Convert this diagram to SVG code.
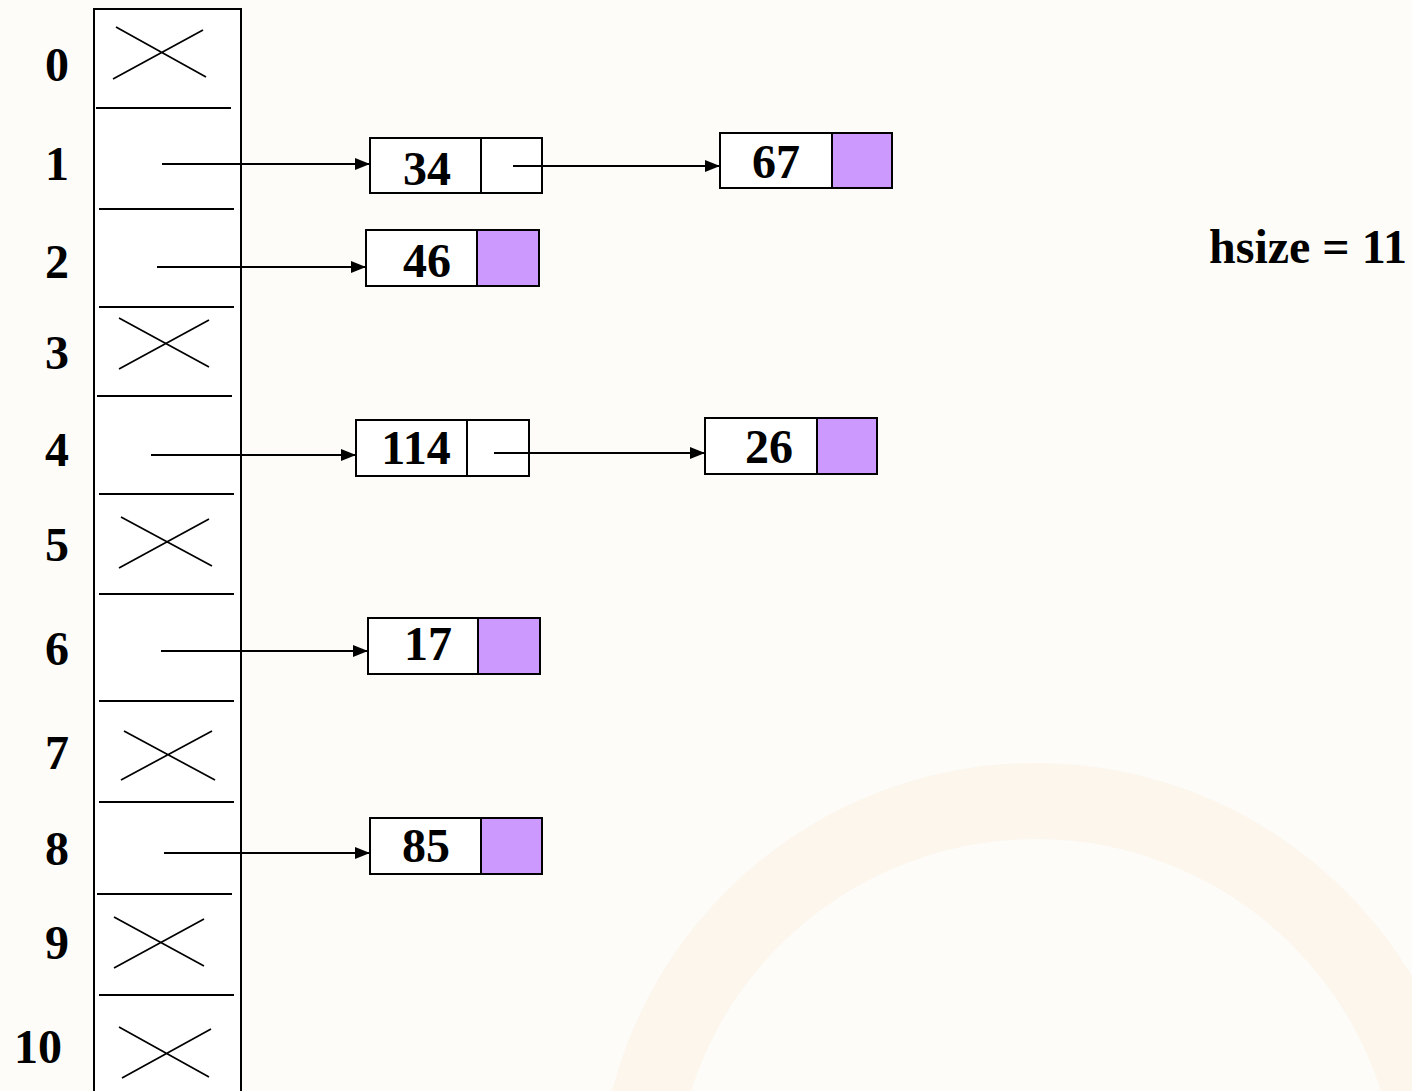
<svg xmlns="http://www.w3.org/2000/svg" width="1412" height="1091" viewBox="0 0 1412 1091">
  <style>
    .lbl { font-family: "Liberation Serif", "Times New Roman", serif; font-weight: bold; font-size: 48px; fill: #000; }
    .mid { text-anchor: middle; }
    .box { fill: #ffffff; stroke: #000; stroke-width: 2; }
    .nul { fill: #cc99ff; stroke: #000; stroke-width: 2; }
    .sep { stroke: #000; stroke-width: 2.2; }
    .x { stroke: #000; stroke-width: 1.7; fill: none; }
    .arr { stroke: #000; stroke-width: 1.8; fill: none; marker-end: url(#head); }
  </style>
  <defs>
    <marker id="head" viewBox="0 0 15 12" refX="15" refY="6" markerWidth="15" markerHeight="12" markerUnits="userSpaceOnUse" orient="auto">
      <path d="M0,0 L15,6 L0,12 Z" fill="#000"/>
    </marker>
  </defs>

  <!-- background with faint decorative ring -->
  <rect x="0" y="0" width="1412" height="1091" fill="#fdfcf9"/>
  <circle cx="1036" cy="1201" r="400" fill="none" stroke="#fcf1e2" stroke-width="76" opacity="0.55"/>

  <!-- hash table column -->
  <g id="table">
    <rect x="94" y="9" width="147" height="1095" fill="#ffffff" stroke="#000" stroke-width="2"/>
    <line class="sep" x1="96" y1="108" x2="231" y2="108"/>
    <line class="sep" x1="99" y1="209" x2="234" y2="209"/>
    <line class="sep" x1="99" y1="307" x2="234" y2="307"/>
    <line class="sep" x1="97" y1="396" x2="232" y2="396"/>
    <line class="sep" x1="99" y1="494" x2="234" y2="494" stroke-width="2.8"/>
    <line class="sep" x1="99" y1="594" x2="234" y2="594"/>
    <line class="sep" x1="99" y1="701" x2="234" y2="701"/>
    <line class="sep" x1="99" y1="802" x2="234" y2="802"/>
    <line class="sep" x1="97" y1="894" x2="232" y2="894"/>
    <line class="sep" x1="99" y1="995" x2="234" y2="995"/>
    <!-- empty slots -->
    <path class="x" d="M116,27 L206,77 M113,79 L203,30"/>
    <path class="x" d="M119,318 L209,367 M119,369 L209,320"/>
    <path class="x" d="M121,517 L212,566 M119,568 L209,519"/>
    <path class="x" d="M124,731 L215,780 M121,780 L212,731"/>
    <path class="x" d="M114,917 L204,966 M114,968 L204,919"/>
    <path class="x" d="M119,1027 L209,1077 M122,1078 L211,1029"/>
  </g>

  <!-- slot indices -->
  <g id="indices" class="lbl">
    <text class="mid" x="57" y="81">0</text>
    <text class="mid" x="57" y="180">1</text>
    <text class="mid" x="57" y="278">2</text>
    <text class="mid" x="57" y="369">3</text>
    <text class="mid" x="57" y="466">4</text>
    <text class="mid" x="57" y="561">5</text>
    <text class="mid" x="57" y="665">6</text>
    <text class="mid" x="57" y="769">7</text>
    <text class="mid" x="57" y="865">8</text>
    <text class="mid" x="57" y="959">9</text>
    <text class="mid" x="38" y="1063">10</text>
  </g>

  <!-- list nodes -->
  <g id="node-34">
    <rect class="box" x="370" y="138" width="172" height="55"/>
    <line x1="481" y1="138" x2="481" y2="193" stroke="#000" stroke-width="2"/>
    <text class="lbl mid" x="427" y="185">34</text>
  </g>
  <g id="node-67">
    <rect class="box" x="720" y="133" width="172" height="55"/>
    <rect class="nul" x="832" y="133" width="60" height="55"/>
    <text class="lbl mid" x="776" y="178">67</text>
  </g>
  <g id="node-46">
    <rect class="box" x="366" y="230" width="173" height="56"/>
    <rect class="nul" x="477" y="230" width="62" height="56"/>
    <text class="lbl mid" x="427" y="277">46</text>
  </g>
  <g id="node-114">
    <rect class="box" x="356" y="420" width="173" height="56"/>
    <line x1="467" y1="420" x2="467" y2="476" stroke="#000" stroke-width="2"/>
    <text class="lbl mid" x="416" y="464">114</text>
  </g>
  <g id="node-26">
    <rect class="box" x="705" y="418" width="172" height="56"/>
    <rect class="nul" x="817" y="418" width="60" height="56"/>
    <text class="lbl mid" x="769" y="463">26</text>
  </g>
  <g id="node-17">
    <rect class="box" x="368" y="618" width="172" height="56"/>
    <rect class="nul" x="478" y="618" width="62" height="56"/>
    <text class="lbl mid" x="428" y="660">17</text>
  </g>
  <g id="node-85">
    <rect class="box" x="370" y="818" width="172" height="56"/>
    <rect class="nul" x="481" y="818" width="61" height="56"/>
    <text class="lbl mid" x="426" y="862">85</text>
  </g>

  <!-- pointers -->
  <g id="connectors">
    <line class="arr" x1="162" y1="164" x2="370" y2="164"/>
    <line class="arr" x1="513" y1="166" x2="720" y2="166"/>
    <line class="arr" x1="157" y1="267" x2="366" y2="267"/>
    <line class="arr" x1="151" y1="455" x2="356" y2="455"/>
    <line class="arr" x1="494" y1="453" x2="705" y2="453"/>
    <line class="arr" x1="161" y1="651" x2="368" y2="651"/>
    <line class="arr" x1="164" y1="853" x2="370" y2="853"/>
  </g>

  <text id="hsize" class="lbl" x="1209" y="263">hsize = 11</text>
</svg>
